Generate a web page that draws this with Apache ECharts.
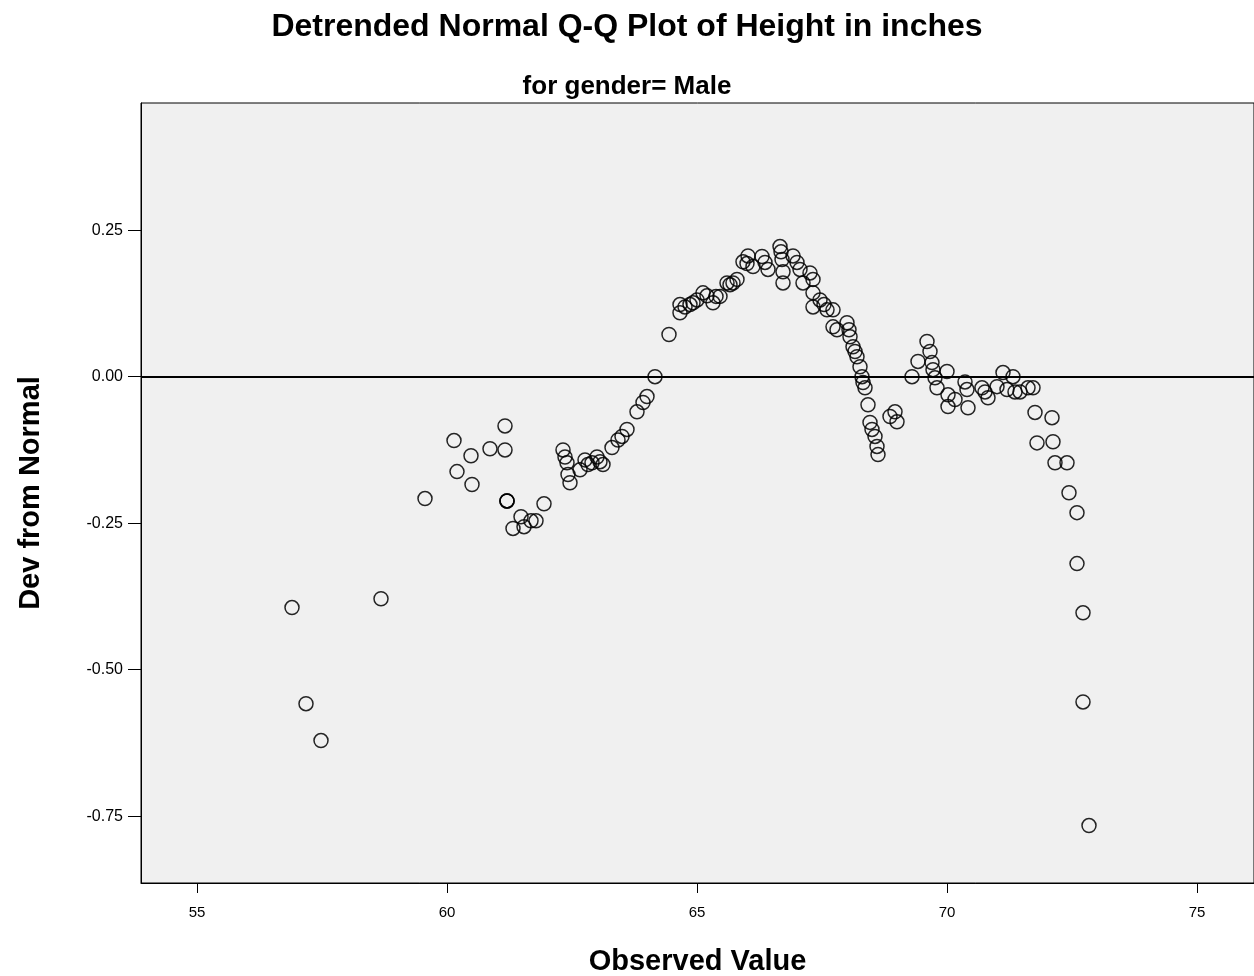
<!DOCTYPE html>
<html>
<head>
<meta charset="utf-8">
<script src="https://cdn.jsdelivr.net/npm/echarts@6/dist/echarts.min.js"></script>
<style>
html,body{margin:0;padding:0;background:#fff;}
#chart{width:1254px;height:976px;}
</style>
</head>
<body>
<div id="chart"></div>
<script>
// Observed height values (inches)
const observed = [
  56.90, 57.18, 57.48, 58.68, 59.56, 60.14, 60.20, 60.48, 60.50, 60.86,
  61.16, 61.16, 61.20, 61.20, 61.20, 61.32, 61.48, 61.54, 61.68, 61.78, 61.94,
  62.32, 62.36, 62.40, 62.42, 62.46, 62.66, 62.76, 62.82, 62.90, 63.00,
  63.06, 63.12, 63.30, 63.42, 63.50, 63.60, 63.80, 63.92, 64.00, 64.16,
  64.44, 64.66, 64.66, 64.76, 64.86, 64.92, 65.00, 65.12, 65.20, 65.32,
  65.38, 65.46, 65.60, 65.66, 65.72, 65.80, 65.92, 66.02, 66.00, 66.12,
  66.30, 66.36, 66.42, 66.66, 66.70, 66.72, 66.72, 66.68, 66.92, 67.00,
  67.06, 67.12, 67.26, 67.32, 67.32, 67.32, 67.46, 67.54, 67.60, 67.72,
  67.72, 67.80, 68.00, 68.04, 68.06, 68.12, 68.16, 68.20, 68.26, 68.30,
  68.32, 68.36, 68.42, 68.46, 68.50, 68.56, 68.60, 68.62, 68.86, 68.96,
  69.00, 69.30, 69.42, 69.60, 69.66, 69.70, 69.72, 69.76, 69.80, 70.00,
  70.02, 70.02, 70.16, 70.36, 70.40, 70.42, 70.70, 70.76, 70.82, 71.00,
  71.12, 71.20, 71.32, 71.36, 71.46, 71.62, 71.72, 71.76, 72.10, 71.80,
  72.12, 72.16, 72.40, 72.44, 72.60, 72.60, 72.72, 72.72, 72.84
];
// Deviation from normal
const deviation = [
  -0.394, -0.558, -0.621, -0.379, -0.208, -0.109, -0.162, -0.135, -0.184, -0.123,
  -0.084, -0.125, -0.212, -0.212, -0.212, -0.259, -0.239, -0.256, -0.246, -0.246, -0.217,
  -0.125, -0.137, -0.147, -0.167, -0.181, -0.159, -0.142, -0.150, -0.147, -0.137,
  -0.145, -0.150, -0.121, -0.108, -0.102, -0.090, -0.060, -0.044, -0.034, 0.000,
  0.072, 0.109, 0.123, 0.119, 0.123, 0.126, 0.131, 0.143, 0.138, 0.126,
  0.137, 0.137, 0.160, 0.157, 0.160, 0.166, 0.196, 0.206, 0.193, 0.188,
  0.205, 0.195, 0.183, 0.222, 0.200, 0.179, 0.160, 0.213, 0.206, 0.195,
  0.183, 0.160, 0.177, 0.166, 0.143, 0.119, 0.131, 0.123, 0.114, 0.114,
  0.085, 0.080, 0.092, 0.080, 0.068, 0.051, 0.043, 0.034, 0.017, 0.000,
  -0.010, -0.019, -0.048, -0.078, -0.090, -0.102, -0.119, -0.133, -0.068, -0.060,
  -0.077, 0.000, 0.026, 0.060, 0.043, 0.024, 0.012, -0.002, -0.019, 0.009,
  -0.031, -0.051, -0.039, -0.009, -0.022, -0.053, -0.019, -0.026, -0.036, -0.017,
  0.007, -0.022, 0.000, -0.026, -0.026, -0.019, -0.019, -0.061, -0.070, -0.113,
  -0.111, -0.147, -0.147, -0.198, -0.232, -0.319, -0.403, -0.555, -0.766
];
const xTicks = [55, 60, 65, 70, 75];
const yTicks = [0.25, 0.00, -0.25, -0.50, -0.75];

const points = observed.map((v, i) => [v, deviation[i]]);

const chart = echarts.init(document.getElementById('chart'), null, {renderer: 'canvas'});
const labelFont = '"Liberation Sans", Arial, sans-serif';
chart.setOption({
  animation: false,
  backgroundColor: '#ffffff',
  title: [
    {
      text: 'Detrended Normal Q-Q Plot of Height in inches',
      left: 'center', top: 6,
      textStyle: {fontFamily: labelFont, fontSize: 32, fontWeight: 'bold', color: '#000'}
    },
    {
      text: 'for gender= Male',
      left: 'center', top: 69,
      textStyle: {fontFamily: labelFont, fontSize: 26, fontWeight: 'bold', color: '#000'}
    }
  ],
  grid: {
    left: 141, top: 103, right: 0, bottom: 93,
    outerBoundsMode: 'none', containLabel: false,
    show: true, backgroundColor: '#f0f0f0', borderColor: '#000', borderWidth: 1
  },
  xAxis: {
    type: 'value', min: 53.88, max: 76.14,
    name: 'Observed Value', nameLocation: 'middle', nameGap: 64,
    nameTextStyle: {fontFamily: labelFont, fontSize: 29, fontWeight: 'bold', color: '#000'},
    axisLine: {show: true, onZero: false, lineStyle: {color: '#000', width: 1}},
    axisTick: {show: true, inside: false, length: 10, customValues: xTicks, lineStyle: {color: '#000'}},
    axisLabel: {customValues: xTicks, margin: 22, fontFamily: labelFont, fontSize: 15, color: '#000'},
    splitLine: {show: false}
  },
  yAxis: {
    type: 'value', min: -0.864, max: 0.467,
    name: 'Dev from Normal', nameLocation: 'middle', nameGap: 96, nameRotate: 90,
    nameTextStyle: {fontFamily: labelFont, fontSize: 29, fontWeight: 'bold', color: '#000'},
    axisLine: {show: true, onZero: false, lineStyle: {color: '#000', width: 1}},
    axisTick: {show: true, inside: false, length: 13, customValues: yTicks, lineStyle: {color: '#000'}},
    axisLabel: {
      customValues: yTicks, margin: 18, fontFamily: labelFont, fontSize: 16, color: '#000',
      formatter: v => v.toFixed(2)
    },
    splitLine: {show: false}
  },
  series: [{
    type: 'scatter',
    data: points,
    symbol: 'circle',
    symbolSize: 14,
    itemStyle: {color: 'rgba(0,0,0,0)', borderColor: '#000', borderWidth: 1.5, opacity: 0.85},
    emphasis: {disabled: true},
    markLine: {
      silent: true, symbol: 'none', label: {show: false},
      lineStyle: {color: '#000', width: 2, type: 'solid'},
      data: [{yAxis: 0}]
    }
  }]
});
</script>
</body>
</html>
